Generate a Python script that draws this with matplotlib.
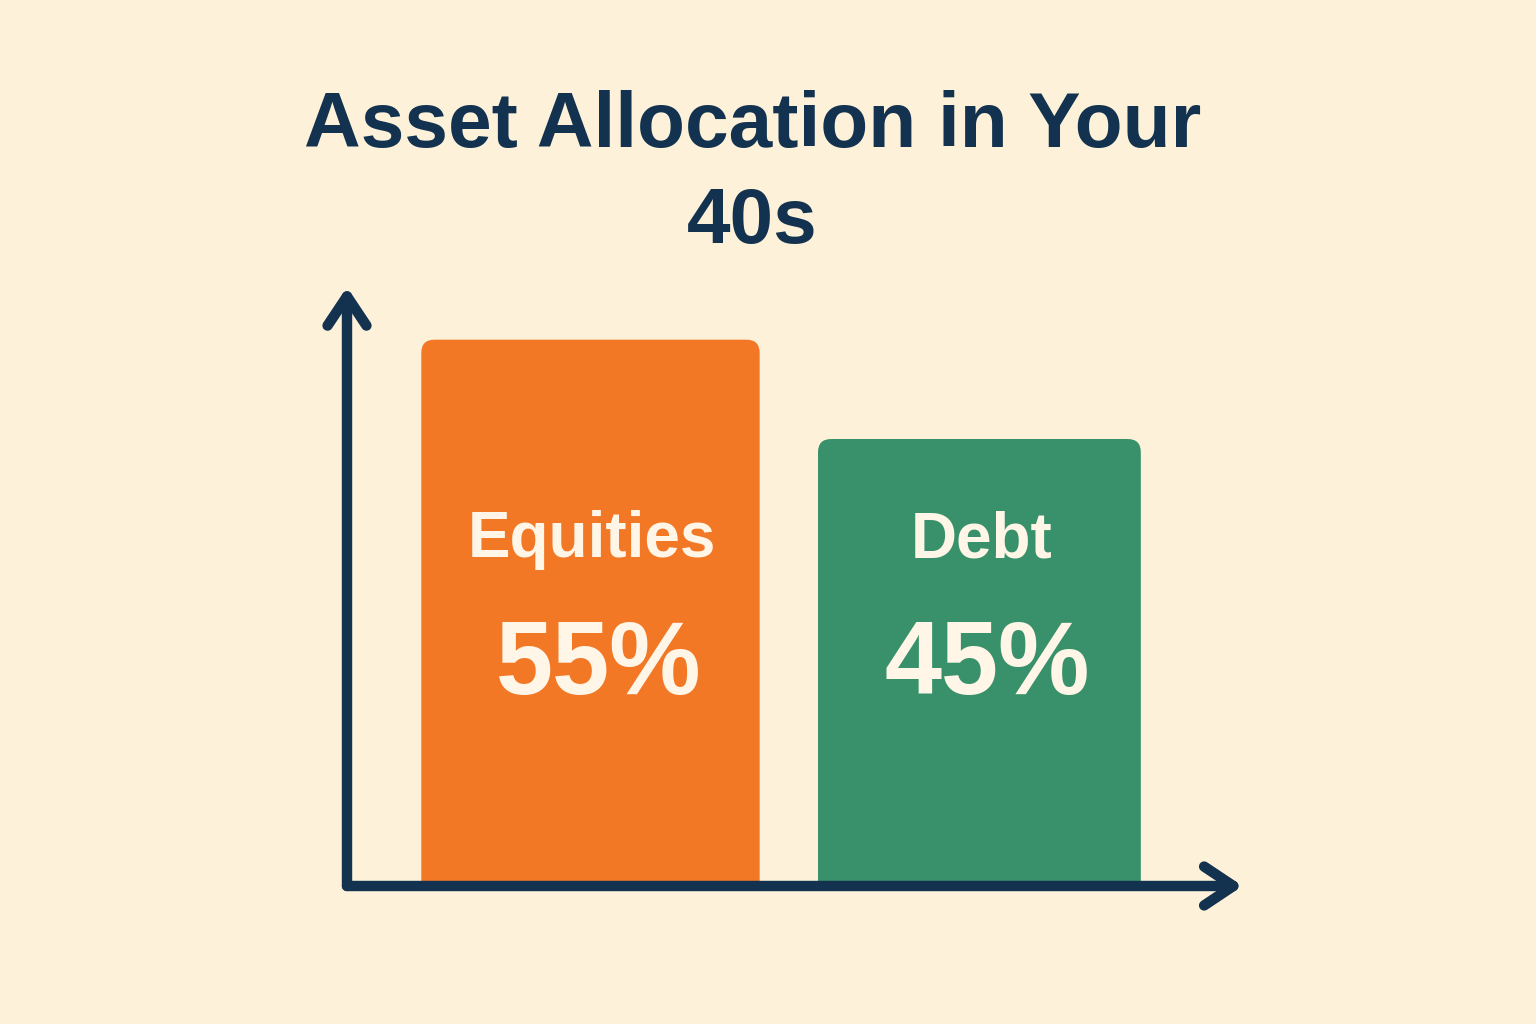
import matplotlib
matplotlib.use("Agg")
import matplotlib.pyplot as plt
from matplotlib.patches import FancyBboxPatch

# data
categories = ["Equities", "Debt"]
shares = [55, 45]
bar_colors = ["#F37826", "#38916A"]
bar_widths = [0.87, 0.83]

bg = "#FDF2D9"
navy = "#12324F"
label_col = "#FFF6E8"

plt.rcParams['font.family'] = ['Liberation Sans', 'DejaVu Sans']

fig = plt.figure(figsize=(15.36, 10.24), dpi=100, facecolor=bg)

'''Title'''
fig.text(0.49, 0.912, "Asset Allocation in Your\n40s", ha="center", va="top",
         fontsize=56.5, fontweight="bold", color=navy, linespacing=1.4)

'''Axes region'''
ax = fig.add_axes([347/1536, 138/1024, 893/1536, 596/1024])
ax.set_facecolor(bg)
ax.set_xlim(-0.626, 1.67)
ax.set_ylim(0, 60)
for s in ax.spines.values():
    s.set_visible(False)
ax.set_xticks([])
ax.set_yticks([])

# px per unit, used to keep corners round
aspect = (60/596) / (1/389)

for i, (cat, val) in enumerate(zip(categories, shares)):
    w = bar_widths[i]
    x0 = i - w/2
    box = FancyBboxPatch((x0, -5), w, val + 5,
                         boxstyle="round,pad=0,rounding_size=0.034",
                         mutation_aspect=aspect,
                         facecolor=bar_colors[i], edgecolor="none", zorder=2)
    ax.add_patch(box)
    ax.text(i + 0.005, 34.8, cat, ha="center", va="center", fontsize=46,
            fontweight="bold", color=label_col, zorder=3)
    ax.text(i + 0.02, 22.0, f"{val}%", ha="center", va="center", fontsize=74,
            fontweight="bold", color=label_col, zorder=3)

'''Arrow axes'''
arrow_kw = dict(arrowstyle="->,head_length=1.05,head_width=0.7", color=navy,
                lw=7.5, mutation_scale=20, capstyle="round", joinstyle="round",
                shrinkA=0, shrinkB=0)
ax.annotate("", xy=(0, 1.005), xytext=(0, 0), xycoords="axes fraction",
            arrowprops=arrow_kw, annotation_clip=False, zorder=5)
ax.annotate("", xy=(1.003, 0), xytext=(0, 0), xycoords="axes fraction",
            arrowprops=arrow_kw, annotation_clip=False, zorder=5)

fig.savefig("out.png", dpi=100, facecolor=bg)
